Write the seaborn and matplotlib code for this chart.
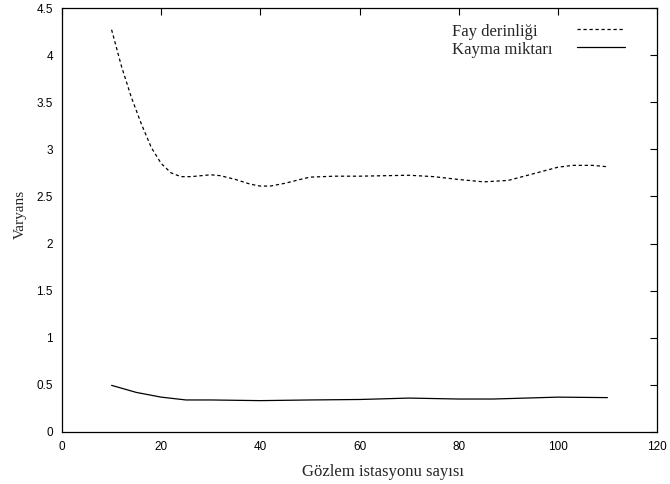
import matplotlib
matplotlib.use("Agg")
import matplotlib.pyplot as plt
import seaborn as sns
import pandas as pd

# Fault-depth variance against number of observation stations
depth_x = [10, 12, 14, 16, 18, 20, 22, 24, 26, 28, 30, 32, 35, 38, 40, 42, 45, 48,
           50, 55, 60, 65, 70, 75, 80, 85, 90, 95, 100, 103, 107, 110]
depth_var = [4.27, 3.88, 3.55, 3.27, 3.02, 2.85, 2.75, 2.71, 2.71, 2.72, 2.73, 2.72,
             2.68, 2.63, 2.61, 2.61, 2.64, 2.68, 2.705, 2.715, 2.715, 2.72, 2.725,
             2.71, 2.68, 2.655, 2.67, 2.74, 2.81, 2.83, 2.83, 2.815]

# Slip-amount variance against number of observation stations
slip_x = [10, 15, 20, 25, 30, 40, 50, 60, 70, 80, 87, 100, 110]
slip_var = [0.495, 0.42, 0.37, 0.34, 0.34, 0.333, 0.34, 0.345, 0.36, 0.35, 0.35, 0.37, 0.365]

series_names = ["Fay derinliği", "Kayma miktarı"]
x_ticks = [0, 20, 40, 60, 80, 100, 120]
y_ticks = [0, 0.5, 1, 1.5, 2, 2.5, 3, 3.5, 4, 4.5]
y_tick_labels = ["0", "0.5", "1", "1.5", "2", "2.5", "3", "3.5", "4", "4.5"]

sns.set_style("white")
plt.rcParams["font.family"] = ["Liberation Sans", "DejaVu Sans"]
serif = ["Liberation Serif", "DejaVu Serif"]

df_depth = pd.DataFrame({"x": depth_x, "y": depth_var})
df_slip = pd.DataFrame({"x": slip_x, "y": slip_var})

fig = plt.figure(figsize=(6.7, 4.84), dpi=100)
ax = fig.add_axes([62 / 670, 1 - 432 / 484, 595 / 670, 424 / 484])

sns.lineplot(data=df_depth, x="x", y="y", ax=ax, color="black", linewidth=0.9)
depth_line = ax.lines[-1]
depth_line.set_dashes([2.6, 2.2])
sns.lineplot(data=df_slip, x="x", y="y", ax=ax, color="black", linewidth=0.9)
slip_line = ax.lines[-1]

ax.set_xlim(0, 120)
ax.set_ylim(0, 4.5)
ax.set_xticks(x_ticks)
ax.set_xticklabels([str(t) for t in x_ticks])
ax.set_yticks(y_ticks)
ax.set_yticklabels(y_tick_labels)
ax.tick_params(direction="in", length=5, width=0.8, top=True, right=True,
               labelsize=8.5, pad=6.5, colors="black")
for side in ax.spines.values():
    side.set_color("black")
    side.set_linewidth(0.9)

ax.set_xlabel("Gözlem istasyonu sayısı", family=serif, fontsize=12, labelpad=8)
ax.xaxis.label.set_x((383 - 62) / 595)
ax.set_ylabel("Varyans", family=serif, fontsize=11, labelpad=7)
ax.yaxis.label.set_y((432 - 214) / 424)

# Key: line samples in a right-hand column, names left-justified beside them
leg = ax.legend([depth_line, slip_line], ["", ""], loc="upper left",
                bbox_to_anchor=((577 - 62) / 595, (432 - 23) / 424),
                frameon=False, handlelength=2.88, handletextpad=0.0,
                borderpad=0.0, borderaxespad=0.0, labelspacing=0.14,
                prop={"family": serif, "size": 12})
for name, base_y in zip(series_names, [35.7, 54.0]):
    ax.text((452.5 - 62) / 595, (432 - base_y) / 424, name, transform=ax.transAxes,
            family=serif, fontsize=12, ha="left", va="baseline")

fig.savefig("out.png", dpi=100)
